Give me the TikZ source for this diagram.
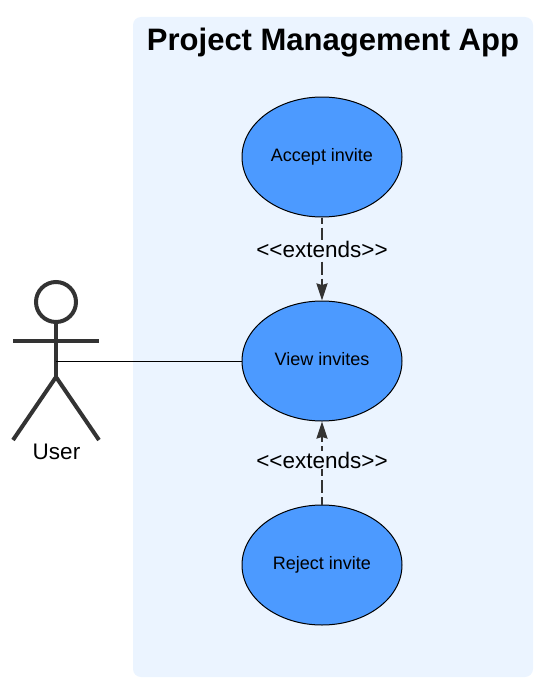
\documentclass[tikz,border=0pt]{standalone}
\usepackage{fontspec}
\setmainfont[Ligatures=NoCommon]{Liberation Sans}
\usepackage{xcolor}
\usetikzlibrary{positioning,arrows.meta,shapes.geometric}
\definecolor{panelc}{HTML}{EBF4FF}
\definecolor{usecase}{HTML}{4C9AFF}
\definecolor{ink}{HTML}{333333}
\tikzset{
  panel/.style={rounded corners=8pt, fill=panelc, minimum width=400pt, minimum height=660pt, inner sep=0pt},
  casenode/.style={ellipse, draw=black, line width=1pt, fill=usecase, minimum width=160pt, minimum height=120pt,
              inner sep=0pt, text height=12pt, text depth=4pt, font=\fontsize{18}{20}\selectfont},
  rellabel/.style={fill=panelc, inner sep=1pt, font=\fontsize{22.5}{26}\selectfont},
  extendline/.style={draw=ink, line width=2.2pt, dash pattern=on 13pt off 4pt, -{Stealth[length=17pt,width=11pt,inset=1.5pt]}},
  limb/.style={draw=ink, line width=4pt},
  >=Stealth,
}
\begin{document}
\begin{tikzpicture}[x=1pt,y=1pt]
\useasboundingbox (0,0) rectangle (547,-685);
\node[panel] (app) at (333,-347) {};
\node[font=\fontsize{31}{34}\selectfont\bfseries] (title) at (333,-43) {Project Management App};

\node[casenode] (accept) at (322,-157) {Accept invite};
\node[casenode, below=83pt of accept] (view) {View invites};
\node[casenode, below=83pt of view] (reject) {Reject invite};

\draw[extendline, dash phase=7pt] (accept) -- (view) node[pos=.38, rellabel] (ext1) {{<}{<}extends{>}{>}};
\draw[extendline, dash phase=5pt] (reject) -- (view) node[pos=.535, rellabel] (ext2) {{<}{<}extends{>}{>}};

% actor
\node[circle, limb, minimum size=40pt, inner sep=0pt] (head) at (56,-302) {};
\coordinate (hip) at (56,-377);
\coordinate (armL) at (13,-341);
\coordinate (armR) at (99,-341);
\coordinate (footL) at (13,-440);
\coordinate (footR) at (99,-440);
\coordinate (waist) at (56,-361);
\draw[limb] (head) -- (hip);
\draw[limb] (armL) -- (armR);
\draw[limb] (footL) -- (hip) -- (footR);
\node[font=\fontsize{22.5}{26}\selectfont] (user) at (56.5,-452) {User};
\draw[black, line width=0.6pt] (waist) -- (view.west);
\end{tikzpicture}
\end{document}
